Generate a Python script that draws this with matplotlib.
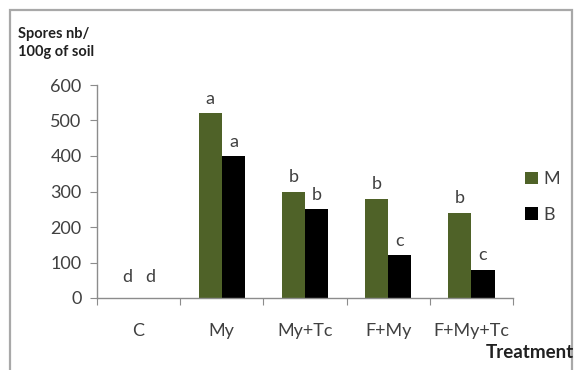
import matplotlib
matplotlib.use("Agg")
import matplotlib.pyplot as plt
import numpy as np
from matplotlib.patches import Rectangle

categories = ["C", "My", "My+Tc", "F+My", "F+My+Tc"]
series_names = ["M", "B"]
values_M = [0, 520, 300, 280, 240]
values_B = [0, 400, 250, 120, 80]
letters_M = ["d", "a", "b", "b", "b"]
letters_B = ["d", "a", "b", "c", "c"]
yticks = [0, 100, 200, 300, 400, 500, 600]

green = "#4F6228"
black = "#000000"
gray = "#8C8C8C"
font = ["Lato", "DejaVu Sans"]
plt.rcParams["font.family"] = font

fig = plt.figure(figsize=(5.74, 3.70), dpi=100)
W, H = 574, 370
# outer frame
fig.add_artist(Rectangle((10 / W, -0.05), (572 - 10) / W, (H - 10) / H + 0.05,
                         transform=fig.transFigure, fill=False,
                         edgecolor="#A8A8A8", linewidth=1.6))

ax = fig.add_axes([97 / W, (H - 298) / H, (513 - 97) / W, (298 - 85) / H])
x = np.arange(len(categories))
bw = 0.28
ax.bar(x - bw / 2, values_M, bw, color=green, label=series_names[0])
ax.bar(x + bw / 2, values_B, bw, color=black, label=series_names[1])

for i in range(len(categories)):
    ax.text(x[i] - bw / 2, max(values_M[i], 20) + 18, letters_M[i], ha="center",
            va="bottom", fontsize=13, color="#404040")
    ax.text(x[i] + bw / 2, max(values_B[i], 20) + 18, letters_B[i], ha="center",
            va="bottom", fontsize=13, color="#404040")

ax.set_xlim(-0.5, len(categories) - 0.5)
ax.set_ylim(0, 600)
ax.set_yticks(yticks)
ax.set_yticklabels([str(v) for v in yticks], fontsize=13, color="#404040")
ax.set_xticks(np.arange(len(categories) + 1) - 0.5)
ax.set_xticklabels([])
ax.set_xticks(x, minor=True)
ax.set_xticklabels(categories, minor=True, fontsize=13, color="#404040")
ax.tick_params(axis="x", which="minor", length=0, pad=18)
ax.tick_params(axis="x", which="major", length=5, color=gray, direction="out")
ax.tick_params(axis="y", length=5, color=gray, pad=6)
for s in ["top", "right"]:
    ax.spines[s].set_visible(False)
for s in ["left", "bottom"]:
    ax.spines[s].set_color(gray)
    ax.spines[s].set_linewidth(1.0)

leg = fig.legend(loc="upper left", bbox_to_anchor=(509 / W, (H - 155) / H),
                 frameon=False, fontsize=13, handlelength=0.7, handleheight=0.7,
                 handletextpad=0.3, labelspacing=1.1, labelcolor="#404040")

fig.text(18 / W, (H - 43) / H, "Spores nb/\n100g of soil", ha="left", va="center",
         fontsize=10.5, fontweight="bold", color="#202020", linespacing=1.45)
fig.text(574 / W, (H - 352) / H, "Treatment", ha="right", va="center",
         fontsize=13.5, fontweight="bold", color="#202020")

fig.savefig("out.png", dpi=100)
